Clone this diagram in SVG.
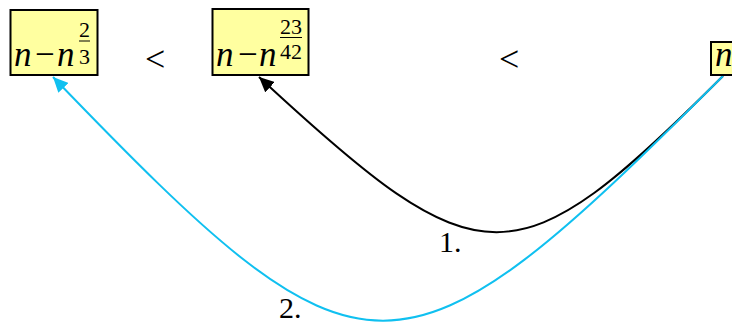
<svg xmlns="http://www.w3.org/2000/svg" width="732" height="324" viewBox="0 0 732 324">
<defs>
<style>
.box{fill:#ffffa0;stroke:#000;stroke-width:2}
.m{font-family:"Liberation Serif",serif;font-size:35px;fill:#000}
.i{font-style:italic}
.s{font-family:"Liberation Serif",serif;font-size:22px;fill:#000}
.lt{font-family:"Liberation Serif",serif;font-size:36px;fill:#000}
.lbl{font-family:"Liberation Serif",serif;font-size:30px;fill:#000}
.bar{stroke:#000;stroke-width:1}
.c{fill:none;stroke-width:2}
</style>
<marker id="ab" markerWidth="16" markerHeight="14" refX="15" refY="7" orient="auto" markerUnits="userSpaceOnUse"><path d="M0,0 L15,7 L0,14 z" fill="#000"/></marker>
<marker id="ac" markerWidth="16" markerHeight="14" refX="15" refY="7" orient="auto" markerUnits="userSpaceOnUse"><path d="M0,0 L15,7 L0,14 z" fill="#10c0f0"/></marker>
</defs>
<g id="connectors">
<path class="c" stroke="#000" d="M723,76 C515,284 482,284 259,77" marker-end="url(#ab)"/>
<path class="c" stroke="#10c0f0" d="M723,76 C397,402 366,402 53,77" marker-end="url(#ac)"/>
</g>
<g id="node1">
<rect class="box" x="10.5" y="10" width="87" height="65"/>
<text class="m" y="66"><tspan class="i" x="14">n</tspan><tspan x="35">−</tspan><tspan class="i" x="57">n</tspan></text>
<text class="s" x="79" y="37">2</text>
<line class="bar" x1="79" y1="41" x2="90" y2="41"/>
<text class="s" x="79" y="64">3</text>
</g>
<g id="lt1"><text class="lt" x="145" y="71">&lt;</text></g>
<g id="node2">
<rect class="box" x="212.5" y="9" width="96" height="66"/>
<text class="m" y="66"><tspan class="i" x="216">n</tspan><tspan x="238">−</tspan><tspan class="i" x="259">n</tspan></text>
<text class="s" x="280" y="34">23</text>
<line class="bar" x1="280" y1="37.5" x2="302" y2="37.5"/>
<text class="s" x="280" y="59">42</text>
</g>
<g id="lt2"><text class="lt" x="499" y="71">&lt;</text></g>
<g id="node3">
<rect class="box" x="711" y="42" width="30" height="33"/>
<text class="m i" x="715" y="66">n</text>
</g>
<g id="labels">
<text class="lbl" x="439" y="252">1.</text>
<text class="lbl" x="279" y="318">2.</text>
</g>
</svg>
